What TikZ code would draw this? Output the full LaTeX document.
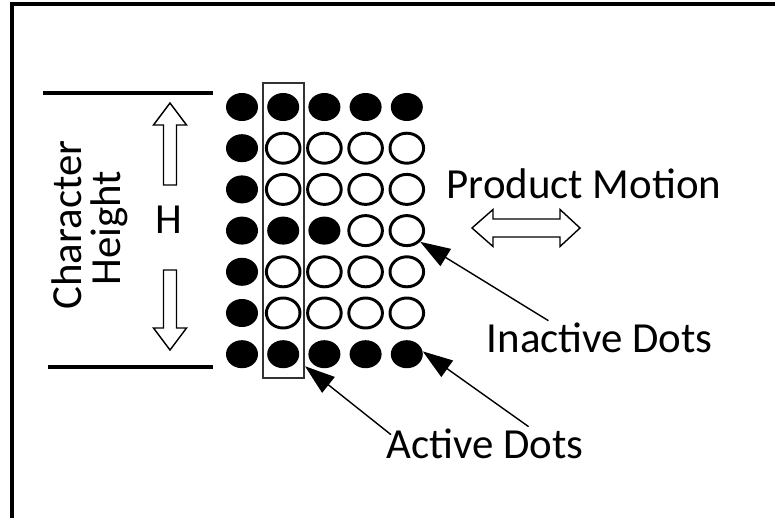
\documentclass[tikz,border=0pt]{standalone}
\usepackage{fontspec}
\setmainfont{Carlito}
\usetikzlibrary{arrows.meta, shapes.geometric, calc}

\begin{document}
\begin{tikzpicture}[x=0.025cm, y=-0.025cm, font=\fontsize{30.5}{34}\selectfont,
        dotfull/.style={ellipse, fill=black, minimum width=0.8cm, minimum height=0.7cm, inner sep=0pt},
        dotopen/.style={ellipse, draw=black, line width=2.1pt, minimum width=0.84cm,
                        minimum height=0.75cm, inner sep=0pt},
        txt/.style={inner sep=1pt},
        pointer/.style={-{Triangle[length=0.75cm, width=0.5cm]}, line width=1pt},
        hollow/.style={draw=black, line width=1pt, fill=white, line join=miter},
        bar/.style={line width=2.2pt}
    ]
        \useasboundingbox (0,0) rectangle (775,518);
        \draw[line width=2.4pt] (12,518) |- (775,4);

        % dot matrix, number of filled dots per row
        \foreach \nf [count=\r] in {5,1,1,3,1,1,5}
            \foreach \c in {1,...,5} {
                \ifnum\c>\nf
                    \node[dotopen] (d-\r-\c) at ({242+41.2*(\c-1)},{107+41.2*(\r-1)}) {};
                \else
                    \node[dotfull] (d-\r-\c) at ({242+41.2*(\c-1)},{107+41.2*(\r-1)}) {};
                \fi
            }
        \node[draw=black!80, line width=1.4pt, minimum width=1.025cm, minimum height=7.375cm,
              inner sep=0pt] (scan) at (283.5,230.5) {};

        % character height
        \draw[bar] (43,93) -- (213,93);
        \draw[bar] (48,367) -- (213,367);
        \node[txt, rotate=90] (chr) at (67,225) {Character};
        \node[txt, rotate=90] (hgt) at (109,228) {Height};
        \node[txt] (h) at (169,220) {H};
        \draw[hollow] (170,103) -- (186.5,125) -- (176.5,125) -- (176.5,185) -- (163.5,185)
            -- (163.5,125) -- (153.5,125) -- cycle;
        \draw[hollow] (170,350) -- (186.5,328) -- (176.5,328) -- (176.5,270) -- (163.5,270)
            -- (163.5,328) -- (153.5,328) -- cycle;

        % motion
        \node[txt, anchor=base west] (prod) at (445,198) {Product Motion};
        \draw[hollow] (472,228) -- (493,209.5) -- (493,219) -- (560,219) -- (560,209.5) -- (580,228)
            -- (560,246.5) -- (560,237) -- (493,237) -- (493,246.5) -- cycle;

        % labels
        \node[txt, anchor=base west] (inact) at (485,352) {Inactive Dots};
        \node[txt, anchor=base west] (act) at (385,458) {Active Dots};
        \draw[pointer] (inact.162) -- (d-4-5.-40);
        \draw[pointer] (act.21) -- (d-7-5.10);
        \draw[pointer] ($(act.north west)+(6,8)$) -- (scan.-81.5);
\end{tikzpicture}
\end{document}
